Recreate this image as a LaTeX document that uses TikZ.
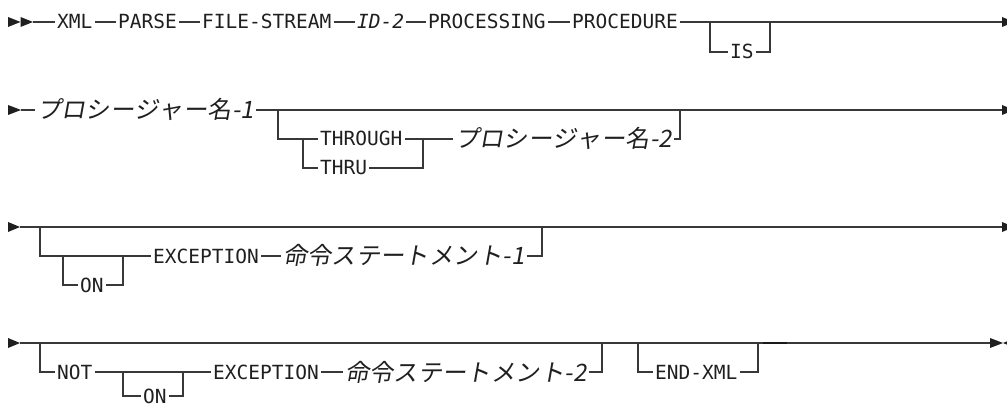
\documentclass[tikz,border=0pt]{standalone}
\usepackage{fontspec}
\newfontfamily\kwfam{DejaVu Sans Mono}
\newfontfamily\jpfam{Noto Sans CJK JP}[FakeSlant=0.18,Kerning=Off,LetterSpace=1.5]
\newcommand\kwfont{\kwfam\fontsize{19.5}{22}\selectfont}
\newcommand\jpfont{\jpfam\fontsize{24}{26}\selectfont}
\begin{document}
\begin{tikzpicture}[x=1pt,y=-1pt,
  ln/.style={draw=black!78, line width=1.2pt},
  kwd/.style={font=\kwfont, text=black!88, inner xsep=2pt, inner ysep=0pt,
              text height=14pt, text depth=0pt, anchor=west},
  kwi/.style={kwd, font=\kwfont\itshape},
  vari/.style={font=\jpfont, text=black!88, inner xsep=2pt, inner ysep=0pt,
               text height=18pt, text depth=0pt, anchor=west},
  tip/.style={fill=black!88, draw=none}]
\useasboundingbox (0,0) rectangle (1007,406);

% ---------- row 1 ----------
\fill[tip] (8,17) -- (20.5,22) -- (8,27) -- cycle;
\fill[tip] (20.5,17) -- (33,22) -- (20.5,27) -- cycle;
\coordinate (s1) at (33,22);
\coordinate (e1) at (1002,22);
\node[kwd] (xml)  at (55,22)  {XML};
\node[kwd] (parse) at (116,22) {PARSE};
\node[kwd] (fs)   at (200,22) {FILE-STREAM};
\node[kwi] (id)   at (355,22) {ID-2};
\node[kwd] (pg)   at (426,22) {PROCESSING};
\node[kwd] (pc)   at (570,22) {PROCEDURE};
\node[kwd] (is)   at (728,52) {IS};
\coordinate (b1) at (710,22);
\coordinate (j1) at (770,22);
\draw[ln] (s1) -- (xml.west);
\draw[ln] (xml.east) -- (parse.west);
\draw[ln] (parse.east) -- (fs.west);
\draw[ln] (fs.east) -- (id.west);
\draw[ln] (id.east) -- (pg.west);
\draw[ln] (pg.east) -- (pc.west);
\draw[ln] (pc.east) -- (e1);
\draw[ln] (b1) |- (is.west);
\draw[ln] (is.east) -| (j1);
\fill[tip] (1002,17) -- (1014,22) -- (1002,27) -- cycle;

% ---------- row 2 ----------
\fill[tip] (8,105) -- (21,110) -- (8,115) -- cycle;
\coordinate (s2) at (21,110);
\coordinate (e2) at (1002,110);
\node[vari] (v1) at (35,110) {プロシージャー名-1};
\node[kwd] (thr)  at (318,139) {THROUGH};
\node[kwd] (thru) at (318,168) {THRU};
\node[vari] (v2) at (453,139) {プロシージャー名-2};
\coordinate (b2) at (278,110);
\coordinate (b3) at (303,139);
\coordinate (j3) at (423,139);
\coordinate (j2) at (680,110);
\draw[ln] (s2) -- (v1.west);
\draw[ln] (v1.east) -- (e2);
\draw[ln] (b2) |- (thr.west);
\draw[ln] (b3) |- (thru.west);
\draw[ln] (thru.east) -| (j3);
\draw[ln] (thr.east) -- (v2.west);
\draw[ln] (v2.east) -| (j2);
\fill[tip] (1002,105) -- (1014,110) -- (1002,115) -- cycle;

% ---------- row 3 ----------
\fill[tip] (8,222) -- (20,227) -- (8,232) -- cycle;
\coordinate (s3) at (20,227);
\coordinate (e3) at (1002,227);
\node[kwd] (on1) at (78,285) {ON};
\node[kwd] (ex1) at (151,256) {EXCEPTION};
\node[vari] (v3) at (281,256) {命令ステートメント-1};
\coordinate (b4) at (40,227);
\coordinate (b5) at (63,256);
\coordinate (j5) at (123,256);
\coordinate (j4) at (542,227);
\draw[ln] (s3) -- (e3);
\draw[ln] (b4) |- (ex1.west);
\draw[ln] (b5) |- (on1.west);
\draw[ln] (on1.east) -| (j5);
\draw[ln] (ex1.east) -- (v3.west);
\draw[ln] (v3.east) -| (j4);
\fill[tip] (1002,222) -- (1014,227) -- (1002,232) -- cycle;

% ---------- row 4 ----------
\fill[tip] (8,338) -- (20,343) -- (8,348) -- cycle;
\coordinate (s4) at (20,343);
\coordinate (e4) at (990,343);
\node[kwd] (not) at (55,372) {NOT};
\node[kwd] (on2) at (141,396) {ON};
\node[kwd] (ex2) at (211,372) {EXCEPTION};
\node[vari] (v4) at (343,372) {命令ステートメント-2};
\node[kwd] (end) at (653,372) {END-XML};
\coordinate (b6) at (40,343);
\coordinate (b7) at (123,372);
\coordinate (j7) at (183,372);
\coordinate (j6) at (602,343);
\coordinate (b8) at (638,343);
\coordinate (j8) at (758,343);
\draw[ln] (s4) -- (e4);
\draw[ln] (b6) |- (not.west);
\draw[ln] (not.east) -- (ex2.west);
\draw[ln] (b7) |- (on2.west);
\draw[ln] (on2.east) -| (j7);
\draw[ln] (ex2.east) -- (v4.west);
\draw[ln] (v4.east) -| (j6);
\draw[ln] (b8) |- (end.west);
\draw[ln] (end.east) -| (j8);
\draw[draw=black!90, line width=2pt] (763,343) -- (787,343);
\fill[tip] (990,338) -- (1003,343) -- (990,348) -- cycle;
\fill[tip] (1015,338) -- (1003,343) -- (1015,348) -- cycle;
\end{tikzpicture}
\end{document}
